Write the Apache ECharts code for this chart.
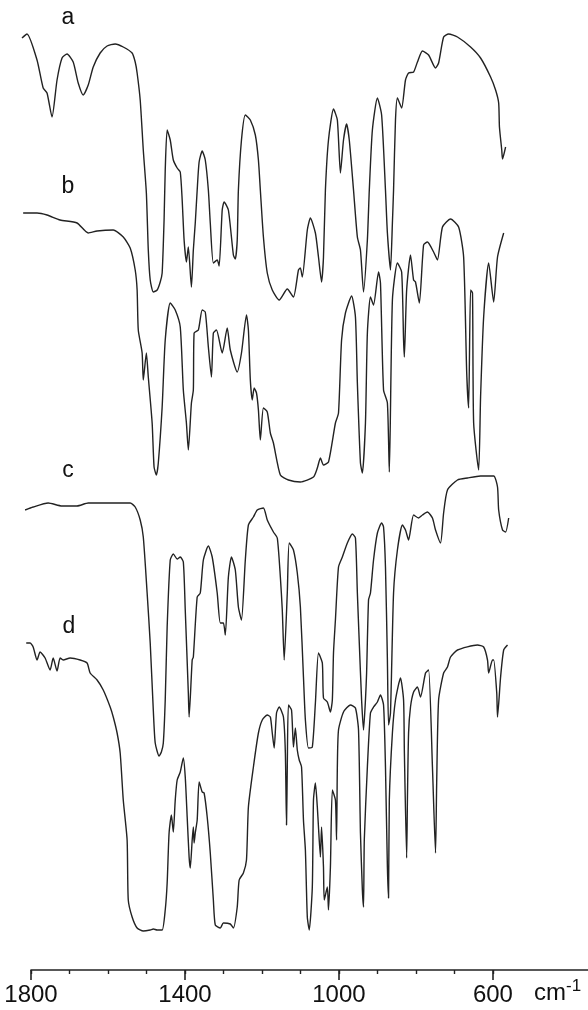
<!DOCTYPE html>
<html>
<head>
<meta charset="utf-8">
<script src="https://cdn.jsdelivr.net/npm/echarts@6/dist/echarts.min.js"></script>
<style>
  html, body { margin: 0; padding: 0; background: #fff; }
  #chart { width: 588px; height: 1010px; }
</style>
</head>
<body>
<div id="chart"></div>
<script>
// IR spectra a-d, stacked with a vertical offset (arbitrary transmittance units)
// each point is [wavenumber cm-1, pen height]
const specA = [
  [1823, 93.2], [1810, 93.6], [1784, 91.0], [1768, 88.2], [1758, 87.7], [1745, 85.3],
  [1732, 89.0], [1719, 91.2], [1706, 91.6], [1690, 90.8], [1677, 88.7], [1664, 87.5],
  [1651, 88.5], [1638, 90.3], [1620, 91.7], [1602, 92.4], [1581, 92.6], [1560, 92.3],
  [1537, 91.7], [1529, 90.8], [1524, 89.7], [1516, 87.0], [1508, 82.0], [1500, 77.7],
  [1495, 72.0], [1490, 69.0], [1482, 67.8], [1472, 68.0], [1464, 68.8], [1459, 69.7],
  [1454, 75.0], [1451, 80.0], [1446, 84.0], [1438, 83.0], [1430, 81.0], [1420, 80.2],
  [1412, 79.8], [1407, 77.0], [1402, 73.0], [1396, 70.8], [1391, 72.3], [1383, 68.3],
  [1378, 72.0], [1373, 74.7], [1368, 78.0], [1363, 80.8], [1355, 81.9], [1347, 81.0],
  [1339, 78.0], [1334, 74.7], [1326, 70.7], [1316, 71.0], [1311, 70.4], [1303, 76.0],
  [1298, 76.8], [1287, 76.0], [1274, 71.5], [1269, 71.1], [1264, 73.0], [1261, 78.0],
  [1253, 83.0], [1243, 85.5], [1230, 85.0], [1217, 83.5], [1209, 81.0], [1204, 78.0],
  [1196, 73.3], [1186, 69.7], [1173, 68.0], [1155, 67.0], [1134, 68.1], [1118, 67.3],
  [1105, 70.0], [1100, 70.2], [1095, 69.3], [1082, 74.0], [1074, 75.2], [1061, 73.7],
  [1053, 71.3], [1045, 68.8], [1040, 71.3], [1035, 78.0], [1027, 83.0], [1014, 86.1],
  [1004, 85.0], [996, 79.7], [988, 83.0], [980, 84.6], [973, 83.0], [962, 78.0],
  [952, 73.3], [944, 72.0], [936, 67.8], [926, 73.0], [921, 78.0], [913, 84.0],
  [900, 87.2], [889, 85.5], [879, 78.0], [874, 73.7], [866, 70.0], [861, 74.7],
  [858, 78.0], [853, 85.0], [848, 87.2], [837, 86.2], [827, 89.0], [819, 89.7],
  [806, 89.8], [796, 90.8], [783, 91.9], [767, 91.5], [749, 90.2], [741, 90.7],
  [728, 93.3], [715, 93.6], [692, 93.3], [658, 92.3], [632, 91.2], [606, 89.3],
  [593, 88.0], [585, 86.7], [583, 84.3], [577, 82.0], [575, 81.1], [567, 82.3]
];

const specB = [
  [1820, 75.7], [1784, 75.7], [1758, 75.5], [1724, 75.0], [1680, 74.7], [1651, 73.7],
  [1628, 73.9], [1586, 74.0], [1560, 73.3], [1542, 72.2], [1529, 70.0], [1524, 68.0],
  [1521, 64.0], [1511, 61.7], [1508, 59.0], [1500, 61.7], [1495, 59.3], [1485, 54.7],
  [1480, 50.3], [1474, 49.5], [1469, 50.7], [1459, 56.3], [1451, 63.0], [1438, 66.7],
  [1425, 66.0], [1412, 64.3], [1404, 58.0], [1396, 54.7], [1391, 52.0], [1383, 56.7],
  [1378, 58.0], [1376, 63.7], [1365, 64.0], [1355, 66.0], [1347, 65.8], [1339, 62.3],
  [1331, 59.3], [1326, 63.7], [1318, 64.0], [1303, 61.7], [1290, 64.2], [1282, 62.0],
  [1264, 59.8], [1253, 61.7], [1240, 65.5], [1235, 64.0], [1230, 59.0], [1225, 57.0],
  [1220, 58.2], [1214, 57.7], [1209, 56.0], [1204, 53.0], [1196, 56.2], [1186, 55.8],
  [1178, 53.7], [1170, 52.7], [1152, 49.5], [1131, 49.0], [1100, 48.8], [1066, 49.3],
  [1056, 50.2], [1048, 51.2], [1040, 50.5], [1027, 50.8], [1009, 54.7], [1001, 55.7],
  [993, 63.0], [983, 65.7], [967, 67.4], [957, 65.3], [952, 58.7], [944, 50.7],
  [939, 49.7], [931, 54.7], [926, 63.7], [918, 67.3], [910, 66.5], [897, 69.8],
  [892, 68.7], [884, 58.0], [874, 56.7], [869, 49.8], [861, 67.0], [848, 70.7],
  [837, 69.8], [832, 63.0], [830, 61.3], [824, 68.0], [814, 71.5], [806, 69.0],
  [801, 68.8], [791, 66.7], [780, 72.5], [770, 72.8], [754, 71.8], [744, 71.0],
  [731, 74.3], [710, 75.1], [689, 74.3], [676, 71.3], [668, 59.7], [663, 56.2],
  [658, 68.0], [653, 67.7], [650, 54.7], [637, 50.0], [632, 57.3], [624, 65.3],
  [611, 70.7], [598, 66.8], [588, 71.3], [572, 73.7]
];

const specC = [
  [1815, 46.0], [1794, 46.3], [1755, 46.7], [1719, 46.4], [1680, 46.4], [1651, 46.7],
  [1586, 46.7], [1542, 46.7], [1529, 46.3], [1516, 45.0], [1508, 43.3], [1498, 37.7],
  [1490, 32.7], [1482, 26.0], [1477, 22.7], [1467, 21.4], [1461, 21.8], [1456, 22.7],
  [1451, 27.0], [1446, 34.3], [1438, 41.0], [1430, 41.6], [1420, 41.1], [1412, 41.3],
  [1404, 40.8], [1399, 36.0], [1391, 27.7], [1389, 25.3], [1381, 31.0], [1378, 31.3],
  [1368, 37.3], [1360, 37.7], [1352, 41.0], [1339, 42.4], [1329, 41.3], [1316, 37.7],
  [1308, 34.7], [1300, 34.7], [1295, 33.5], [1287, 39.3], [1279, 41.3], [1269, 40.0],
  [1261, 36.3], [1253, 35.0], [1243, 41.0], [1235, 44.5], [1222, 45.3], [1212, 46.0],
  [1196, 46.2], [1186, 45.0], [1170, 43.8], [1160, 43.2], [1152, 39.3], [1147, 36.0],
  [1142, 31.0], [1134, 37.7], [1129, 42.7], [1118, 42.0], [1108, 39.7], [1100, 36.3],
  [1092, 29.3], [1087, 25.0], [1079, 22.2], [1069, 22.3], [1061, 26.7], [1053, 31.7],
  [1043, 30.7], [1040, 27.2], [1030, 26.8], [1022, 25.8], [1017, 27.0], [1014, 31.7],
  [1009, 35.0], [1001, 40.3], [991, 41.3], [978, 42.7], [965, 43.6], [957, 43.2],
  [952, 37.7], [947, 32.7], [941, 27.0], [936, 24.0], [931, 27.0], [928, 29.7],
  [923, 37.0], [918, 37.7], [910, 41.0], [900, 43.7], [889, 44.7], [884, 44.3],
  [879, 40.3], [874, 31.0], [871, 24.5], [866, 25.7], [858, 37.7], [848, 42.0],
  [835, 44.5], [827, 44.0], [819, 43.0], [806, 45.5], [793, 45.2], [783, 45.5],
  [770, 45.8], [757, 45.2], [749, 44.0], [736, 42.7], [728, 45.7], [718, 48.0],
  [692, 49.0], [666, 49.2], [632, 49.4], [598, 49.4], [588, 48.3], [585, 46.0],
  [575, 44.0], [567, 43.8], [559, 45.2]
];

const specD = [
  [1812, 32.7], [1802, 32.7], [1794, 32.3], [1784, 31.0], [1776, 31.8], [1763, 31.2],
  [1750, 30.0], [1742, 31.2], [1732, 29.9], [1724, 31.2], [1716, 31.0], [1698, 31.2],
  [1672, 31.0], [1654, 30.7], [1646, 29.7], [1628, 29.0], [1612, 28.0], [1594, 26.3],
  [1586, 25.3], [1576, 23.7], [1568, 21.7], [1560, 17.0], [1550, 13.0], [1547, 7.0],
  [1537, 5.3], [1524, 4.2], [1508, 3.9], [1490, 4.0], [1482, 4.1], [1472, 4.0],
  [1459, 4.0], [1451, 6.0], [1446, 8.7], [1441, 13.7], [1435, 15.5], [1430, 13.8],
  [1425, 17.0], [1420, 19.0], [1412, 19.8], [1404, 21.2], [1399, 19.3], [1394, 15.3],
  [1389, 11.3], [1386, 10.2], [1381, 13.0], [1378, 14.3], [1376, 12.7], [1373, 13.7],
  [1368, 15.0], [1363, 18.8], [1355, 17.8], [1350, 17.7], [1342, 15.3], [1334, 11.7],
  [1326, 7.0], [1321, 4.5], [1308, 4.2], [1300, 4.7], [1282, 4.6], [1274, 4.2],
  [1264, 6.3], [1259, 9.0], [1248, 9.7], [1240, 11.0], [1235, 16.3], [1222, 20.3],
  [1209, 23.7], [1199, 25.0], [1186, 25.5], [1178, 25.3], [1173, 23.7], [1168, 22.2],
  [1162, 25.7], [1155, 26.3], [1144, 25.3], [1139, 21.7], [1136, 14.5], [1134, 20.3],
  [1131, 26.5], [1123, 26.0], [1118, 22.3], [1113, 24.2], [1108, 22.0], [1103, 21.0],
  [1097, 20.3], [1092, 15.0], [1087, 12.0], [1082, 5.3], [1077, 4.0], [1069, 8.3],
  [1066, 17.0], [1061, 18.7], [1056, 16.3], [1053, 14.3], [1048, 11.3], [1045, 14.3],
  [1040, 10.3], [1038, 7.0], [1030, 8.3], [1027, 6.0], [1022, 10.3], [1017, 18.0],
  [1009, 17.0], [1006, 13.0], [1004, 20.3], [1001, 24.0], [988, 25.8], [970, 26.5],
  [957, 26.2], [949, 24.0], [944, 13.7], [939, 8.0], [936, 6.3], [934, 13.0],
  [926, 20.3], [918, 25.7], [910, 26.3], [900, 26.8], [892, 27.5], [884, 26.5],
  [879, 20.3], [874, 10.3], [871, 7.2], [869, 17.0], [861, 23.7], [853, 27.0],
  [840, 29.2], [832, 27.0], [830, 22.0], [824, 11.2], [822, 17.0], [819, 23.7],
  [814, 26.3], [806, 27.8], [796, 28.3], [788, 27.3], [775, 29.7], [767, 30.0],
  [757, 20.3], [749, 11.7], [746, 18.7], [741, 27.0], [728, 29.7], [718, 30.3],
  [710, 31.3], [692, 32.0], [640, 32.5], [624, 32.3], [614, 31.0], [611, 29.7],
  [601, 31.0], [598, 31.0], [590, 27.7], [588, 25.3], [580, 29.3], [572, 32.0],
  [562, 32.5]
];

const traceNames = ['a', 'b', 'c', 'd'];
const minorTicks = [1800, 1700, 1600, 1500, 1400, 1300, 1200, 1100, 1000, 900, 800, 700, 600];
const majorTicks = [1800, 1400, 1000, 600];

const chart = echarts.init(document.getElementById('chart'), null, { renderer: 'canvas' });

const FONT = '"Liberation Sans", Arial, sans-serif';
const INK = '#222222';

// Two grids on the same scale: grid 0 carries the traces (which start a
// little before 1800), grid 1 carries the printed axis, which begins at 1800.
const traces = [specA, specB, specC, specD];

const labelStyle = (x, y, text) => ({
  type: 'text', x, y,
  style: { text, font: '23px ' + FONT, fill: '#111', align: 'center', verticalAlign: 'middle' },
});

chart.setOption({
  animation: false,
  backgroundColor: '#ffffff',
  grid: [
    { left: 22, right: 0, top: 0, bottom: 40 },
    { left: 31, right: 0, top: 0, bottom: 40 },
  ],
  xAxis: [
    {
      gridIndex: 0, type: 'value', min: 353, max: 1823, inverse: true, show: false,
    },
    {
      gridIndex: 1, type: 'value', min: 353, max: 1800, inverse: true, position: 'bottom',
      splitLine: { show: false },
      axisLine: { show: true, lineStyle: { color: INK, width: 1.6 } },
      axisTick: {
        show: true, inside: false, length: 4,
        customValues: minorTicks,
        lineStyle: { color: INK, width: 1.4 },
      },
      axisLabel: { show: false },
    },
    {
      gridIndex: 1, type: 'value', min: 353, max: 1800, inverse: true, position: 'bottom',
      splitLine: { show: false },
      axisLine: { show: false },
      axisTick: {
        show: true, inside: false, length: 10,
        customValues: majorTicks,
        lineStyle: { color: INK, width: 1.6 },
      },
      axisLabel: {
        show: true,
        customValues: majorTicks,
        formatter: (v) => String(v),
        margin: 13,
        color: '#111',
        fontFamily: FONT,
        fontSize: 24,
      },
    },
  ],
  yAxis: [
    { gridIndex: 0, type: 'value', min: 0, max: 97, show: false },
    { gridIndex: 1, type: 'value', min: 0, max: 97, show: false },
  ],
  series: traces.map((d, i) => ({
    name: traceNames[i],
    type: 'line',
    xAxisIndex: 0,
    yAxisIndex: 0,
    data: d,
    showSymbol: false,
    smooth: 0.2,
    lineStyle: { color: INK, width: 1.4 },
  })),
  graphic: [
    labelStyle(68, 18, traceNames[0]),
    labelStyle(68, 187, traceNames[1]),
    labelStyle(68, 471, traceNames[2]),
    labelStyle(69, 627, traceNames[3]),
    { type: 'text', x: 534, y: 1005, style: { text: 'cm', font: '24px ' + FONT, fill: '#111', align: 'left', verticalAlign: 'bottom' } },
    { type: 'text', x: 566, y: 995, style: { text: '-1', font: '17px ' + FONT, fill: '#111', align: 'left', verticalAlign: 'bottom' } },
  ],
});
</script>
</body>
</html>
